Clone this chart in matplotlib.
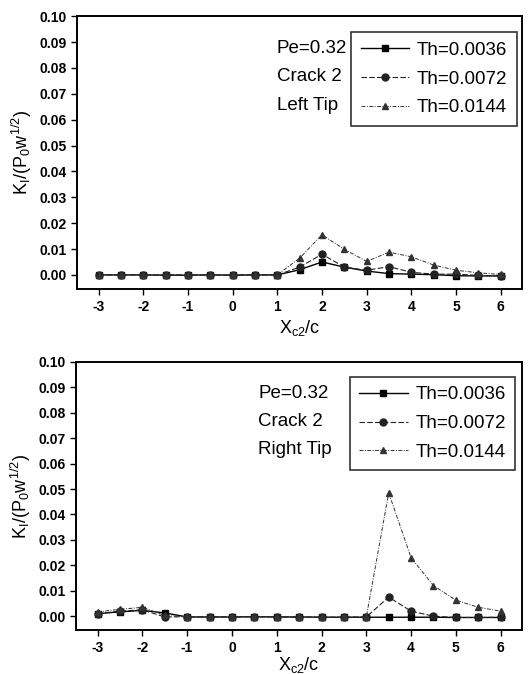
import matplotlib
matplotlib.use("Agg")
import matplotlib.pyplot as plt

plt.rcParams['font.family'] = ['Liberation Sans', 'DejaVu Sans']
plt.rcParams['mathtext.fontset'] = 'custom'
plt.rcParams['mathtext.rm'] = 'Liberation Sans'
plt.rcParams['mathtext.it'] = 'Liberation Sans'
plt.rcParams['axes.unicode_minus'] = False

xc = [-3, -2.5, -2, -1.5, -1, -0.5, 0, 0.5, 1, 1.5, 2, 2.5, 3, 3.5, 4, 4.5, 5, 5.5, 6]
labels = ["Th=0.0036", "Th=0.0072", "Th=0.0144"]

# left tip of crack 2
left_0036 = [0, 0, 0, -0.0001, -0.0001, 0, -0.0001, 0, 0, 0.002, 0.005, 0.003, 0.0015,
             0.0005, 0.0003, 0.0001, -0.0003, -0.0004, -0.0004]
left_0072 = [0, 0, 0, 0, 0, 0, 0, 0, 0, 0.003, 0.008, 0.003, 0.0018,
             0.0032, 0.001, 0.0003, 0.0003, -0.0002, -0.0003]
left_0144 = [0, 0, 0, 0, 0, 0, 0, 0, 0, 0.0065, 0.0155, 0.0099, 0.0052,
             0.0088, 0.007, 0.0038, 0.0018, 0.0008, 0.0002]

# right tip of crack 2
right_0036 = [0.001, 0.0017, 0.0023, 0.0013, -0.0003, -0.0003, -0.0003, -0.0002, -0.0003, -0.0003,
              -0.0004, -0.0004, -0.0004, -0.0004, -0.0004, -0.0004, -0.0005, -0.0005, -0.0005]
right_0072 = [0.001, 0.002, 0.0025, -0.0003, -0.0002, -0.0003, -0.0003, -0.0002, -0.0003, -0.0003,
              -0.0004, -0.0004, -0.0003, 0.0075, 0.002, 0.0, -0.0005, -0.0005, -0.0004]
right_0144 = [0.0017, 0.0027, 0.0035, 0.0003, -0.0002, -0.0003, -0.0003, -0.0002, -0.0003, -0.0003,
              -0.0004, -0.0004, -0.0003, 0.0485, 0.023, 0.012, 0.0063, 0.0035, 0.002]

yticks = [0.00, 0.01, 0.02, 0.03, 0.04, 0.05, 0.06, 0.07, 0.08, 0.09, 0.10]
xticks = [-3, -2, -1, 0, 1, 2, 3, 4, 5, 6]

fig = plt.figure(figsize=(5.28, 6.74), dpi=100)
ax1 = fig.add_axes([0.146, 0.571, 0.843, 0.405])
ax2 = fig.add_axes([0.144, 0.065, 0.845, 0.398])


def draw_panel(ax, series, tip, xlabel_pad, text_x, text_y, leg_anchor):
  styles = [dict(ls="-", lw=1.0, marker="s", color="black"),
            dict(ls=(0, (5, 2)), lw=0.8, marker="o", color="#222222"),
            dict(ls=(0, (4, 1.5, 1, 1.5)), lw=0.7, marker="^", color="#333333")]
  for ys, st, lab in zip(series, styles, labels):
    ax.plot(xc, ys, ms=5, label=lab, **st)
  ax.set_xlim(-3.48, 6.48)
  ax.set_ylim(-0.0055, 0.1)
  ax.set_xticks(xticks)
  ax.set_yticks(yticks)
  ax.set_yticklabels([f"{v:.2f}" for v in yticks])
  ax.tick_params(direction="out", length=4, width=1, labelsize=10)
  for lbl in ax.get_xticklabels() + ax.get_yticklabels():
    lbl.set_fontweight("bold")
  for sp in ax.spines.values():
    sp.set_linewidth(1.4)
  ax.set_ylabel(r"K$_\mathrm{I}$/(P$_0$w$^{1/2}$)", fontsize=13, labelpad=4)
  ax.set_xlabel(r"X$_\mathrm{c2}$/c", fontsize=13, labelpad=xlabel_pad)
  for txt, ty in zip(["Pe=0.32", "Crack 2", tip], text_y):
    ax.text(text_x, ty, txt, transform=ax.transAxes, fontsize=13.5, va="center")
  leg = ax.legend(loc="upper right", bbox_to_anchor=leg_anchor, borderaxespad=0,
                  fontsize=13.5, frameon=True, fancybox=False, edgecolor="black",
                  handlelength=2.6, borderpad=0.5, labelspacing=0.62, handletextpad=0.4)
  leg.get_frame().set_linewidth(1.2)


draw_panel(ax1, [left_0036, left_0072, left_0144], "Left Tip", 3,
           0.449, [0.880, 0.778, 0.674], (0.988, 0.941))
draw_panel(ax2, [right_0036, right_0072, right_0144], "Right Tip", 0,
           0.408, [0.883, 0.777, 0.672], (0.984, 0.944))

fig.savefig("out.png", dpi=100)
